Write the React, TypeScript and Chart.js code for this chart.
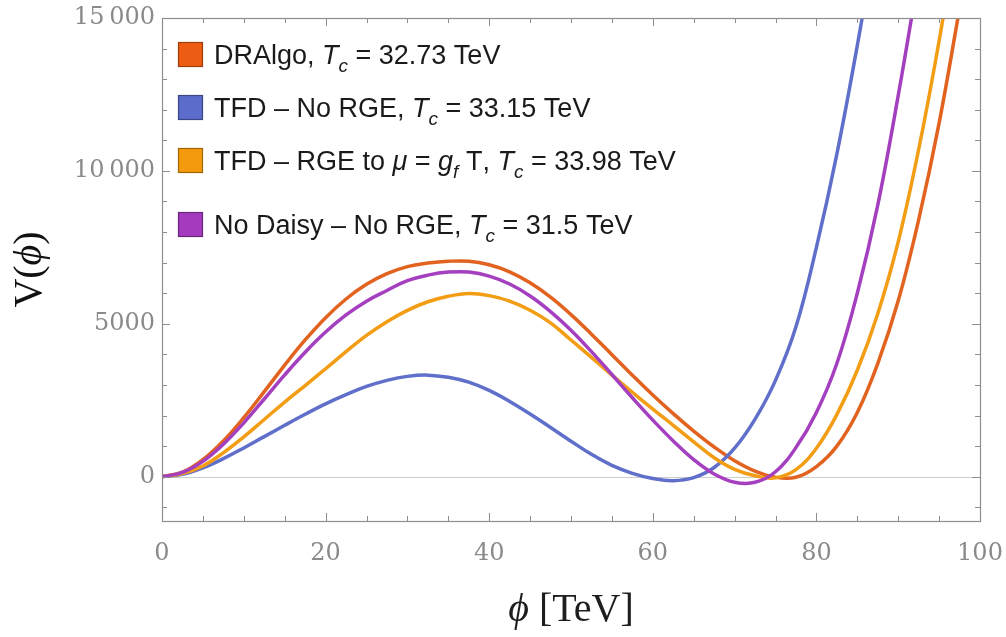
import React, { useEffect, useRef } from "react";
import { Chart, registerables } from "chart.js";

Chart.register(...registerables);

// ---- data ----
const phiValues = [
  0, 2.5, 5, 7.5, 10, 12.5, 15, 17.5, 20, 22.5, 25, 27.5, 30, 32.5, 35, 37.5, 40,
  42.5, 45, 47.5, 50, 52.5, 55, 57.5, 60, 62.5, 65, 67.5, 70, 72.5, 75, 77.5, 80,
  82.5, 85, 87.5, 90, 92.5, 95, 97.5, 100,
];

const dralgoValues = [
  0, 150, 560, 1170, 1930, 2780, 3650, 4470, 5200, 5810, 6290, 6640, 6870, 6985,
  7045, 7045, 6930, 6700, 6340, 5870, 5300, 4660, 3990, 3320, 2670, 2060, 1490,
  970, 520, 180, -20, -20, 330, 1000, 2100, 3700, 5750, 8400, 11560, 15300, null,
];

const tfdNoRgeValues = [
  0, 80, 290, 590, 940, 1310, 1680, 2040, 2380, 2680, 2950, 3150, 3280, 3320,
  3250, 3090, 2820, 2460, 2050, 1610, 1160, 730, 370, 110, -60, -130, -30, 300,
  930, 1880, 3150, 4900, 7500, 10550, 14100, 18000, null, null, null, null, null,
];

const tfdRgeValues = [
  0, 100, 350, 780, 1300, 1870, 2440, 2980, 3530, 4090, 4620, 5070, 5440, 5720,
  5900, 5990, 5920, 5740, 5440, 5030, 4470, 3900, 3320, 2760, 2210, 1680, 1140,
  620, 240, 30, -40, 230, 930, 2030, 3480, 5330, 7680, 10700, 14250, 18300, null,
];

const noDaisyValues = [
  0, 140, 500, 1060, 1760, 2540, 3330, 4070, 4730, 5290, 5740, 6090, 6410, 6590,
  6690, 6690, 6560, 6300, 5910, 5400, 4790, 4090, 3340, 2580, 1850, 1170, 560,
  90, -180, -185, 160, 950, 2100, 3700, 6000, 8880, 12460, 16400, null, null, null,
];

const seriesNames = ["DRAlgo", "TFD \u2013 No RGE", "TFD \u2013 RGE to \u03bc = g_f T", "No Daisy \u2013 No RGE"];
const criticalTemps = ["32.73", "33.15", "33.98", "31.5"];
const seriesColors = ["#E2631F", "#5F6FCA", "#F29D14", "#A43FC0"];
const swatchColors = ["#EE5C14", "#5B6CCB", "#F49A0C", "#A43BBE"];

const xTickValues = [0, 20, 40, 60, 80, 100];
const xTickLabels = ["0", "20", "40", "60", "80", "100"];
const yTickValues = [0, 5000, 10000, 15000];
const yTickLabels = ["0", "5000", "10\u2009000", "15\u2009000"];

const X_MIN = 0;
const X_MAX = 100;
const Y_MIN = -1450;
const Y_MAX = 15000;
const X_MINOR_STEP = 5;
const Y_MINOR_STEP = 1000;

const xTitle = ["\u03d5", " [TeV]"];
const yTitle = ["V(", "\u03d5", ")"];

type Seg = { t: string; it?: boolean; sub?: boolean };

function nameSegments(name: string): Seg[] {
  const m = name.match(/^(.*to )(\u03bc)( = )g_f( T)$/);
  if (m) {
    return [
      { t: m[1] },
      { t: m[2], it: true },
      { t: m[3] },
      { t: "g", it: true },
      { t: "f", it: true, sub: true },
      { t: m[4] },
    ];
  }
  return [{ t: name }];
}

function legendSegments(i: number): Seg[] {
  return [
    ...nameSegments(seriesNames[i]),
    { t: ", " },
    { t: "T", it: true },
    { t: "c", it: true, sub: true },
    { t: " = " + criticalTemps[i] + " TeV" },
  ];
}

function darker(hex: string, f: number) {
  const n = parseInt(hex.slice(1), 16);
  const r = Math.round(((n >> 16) & 255) * f);
  const g = Math.round(((n >> 8) & 255) * f);
  const b = Math.round((n & 255) * f);
  return `rgb(${r},${g},${b})`;
}

const FRAME = "#8e8e8e";

const decorPlugin = {
  id: "decor",
  beforeDatasetsDraw(chart: any) {
    const { ctx, chartArea: a, scales } = chart;
    const y0 = Math.round(scales.y.getPixelForValue(0)) + 0.5;
    ctx.save();
    ctx.strokeStyle = "#cdcdcd";
    ctx.lineWidth = 1;
    ctx.beginPath();
    ctx.moveTo(a.left, y0);
    ctx.lineTo(a.right, y0);
    ctx.stroke();
    ctx.restore();
  },
  afterDraw(chart: any) {
    const { ctx, chartArea: a, scales } = chart;
    const xs = scales.x;
    const ys = scales.y;
    ctx.save();
    ctx.strokeStyle = FRAME;
    ctx.lineWidth = 1.2;
    ctx.strokeRect(Math.round(a.left) + 0.5, Math.round(a.top) + 0.5, Math.round(a.right - a.left), Math.round(a.bottom - a.top));
    ctx.lineWidth = 1;
    ctx.beginPath();
    for (let v = X_MIN; v <= X_MAX + 1e-9; v += X_MINOR_STEP) {
      const px = Math.round(xs.getPixelForValue(v)) + 0.5;
      const len = xTickValues.includes(v) ? 8 : 5;
      ctx.moveTo(px, a.bottom);
      ctx.lineTo(px, a.bottom - len);
      ctx.moveTo(px, a.top);
      ctx.lineTo(px, a.top + len);
    }
    for (let v = Math.ceil(Y_MIN / Y_MINOR_STEP) * Y_MINOR_STEP; v <= Y_MAX + 1e-9; v += Y_MINOR_STEP) {
      const py = Math.round(ys.getPixelForValue(v)) + 0.5;
      const len = yTickValues.includes(v) ? 8 : 5;
      ctx.moveTo(a.left, py);
      ctx.lineTo(a.left + len, py);
      ctx.moveTo(a.right, py);
      ctx.lineTo(a.right - len, py);
    }
    ctx.stroke();

    // axis titles
    const serif = '"Liberation Serif", "DejaVu Serif", serif';
    const tsize = 40;
    ctx.textBaseline = "middle";
    ctx.textAlign = "left";
    const drawPlain = (parts: string[], italicIdx: number[], cx: number, cy: number) => {
      let w = 0;
      parts.forEach((p, i) => {
        ctx.font = `${italicIdx.includes(i) ? "italic " : ""}${tsize}px ${serif}`;
        w += ctx.measureText(p).width;
      });
      let x = cx - w / 2;
      parts.forEach((p, i) => {
        ctx.font = `${italicIdx.includes(i) ? "italic " : ""}${tsize}px ${serif}`;
        ctx.fillText(p, x, cy);
        x += ctx.measureText(p).width;
      });
    };
    ctx.fillStyle = "#1e1e1e";
    drawPlain(xTitle, [0], (a.left + a.right) / 2, 610);
    ctx.save();
    ctx.translate(30, (a.top + a.bottom) / 2);
    ctx.rotate(-Math.PI / 2);
    ctx.fillStyle = "#111";
    drawPlain(yTitle, [1], 0, 0);
    ctx.restore();

    // legend
    const sans = '"Liberation Sans", Arial, sans-serif';
    const lsize = 27;
    const rowCenters = [54.5, 107.5, 160.5, 224.5].map((c) => c - 18 + a.top);
    ctx.textBaseline = "alphabetic";
    for (let i = 0; i < seriesNames.length; i++) {
      const cy = rowCenters[i];
      const sx = a.left + 16;
      ctx.fillStyle = swatchColors[i];
      ctx.fillRect(sx, cy - 12.5, 25, 25);
      ctx.strokeStyle = darker(swatchColors[i], 0.65);
      ctx.lineWidth = 1.2;
      ctx.strokeRect(sx + 0.5, cy - 12, 24, 24);
      ctx.fillStyle = "#1a1a1a";
      let x = sx + 36;
      const base = cy + lsize * 0.358;
      for (const s of legendSegments(i)) {
        const fs = s.sub ? Math.round(lsize * 0.72) : lsize;
        ctx.font = `${s.it ? "italic " : ""}${fs}px ${sans}`;
        ctx.fillText(s.t, x, base + (s.sub ? lsize * 0.3 : 0));
        x += ctx.measureText(s.t).width;
      }
    }
    ctx.restore();
  },
};

export default function App() {
  const ref = useRef<HTMLCanvasElement | null>(null);

  useEffect(() => {
    if (!ref.current) return;
    const allSeries = [dralgoValues, tfdNoRgeValues, tfdRgeValues, noDaisyValues];
    const chart = new Chart(ref.current, {
      type: "line",
      data: {
        datasets: allSeries.map((vals, i) => ({
          label: seriesNames[i],
          data: phiValues.map((x, k) => ({ x, y: vals[k] })),
          borderColor: seriesColors[i],
          backgroundColor: seriesColors[i],
          borderWidth: 3.5,
          pointRadius: 0,
          tension: 0.4,
          spanGaps: false,
          fill: false,
          clip: 0,
          order: allSeries.length - i,
        })),
      },
      options: {
        responsive: false,
        animation: false,
        events: [],
        layout: { padding: { top: 18, right: 26, left: 0, bottom: 0 } },
        plugins: { legend: { display: false }, tooltip: { enabled: false } },
        scales: {
          x: {
            type: "linear",
            min: X_MIN,
            max: X_MAX,
            grid: { display: false, drawTicks: false },
            border: { display: false },
            afterBuildTicks: (s: any) => {
              s.ticks = xTickValues.map((v) => ({ value: v }));
            },
            afterFit: (s: any) => {
              s.height = 116;
              s.paddingLeft = 0;
              s.paddingRight = 0;
            },
            ticks: {
              color: "#8a8a8a",
              font: { family: '"DejaVu Serif", serif', size: 24 },
              padding: 18,
              maxRotation: 0,
              autoSkip: false,
              callback: (v: any) => {
                const i = xTickValues.indexOf(Number(v));
                return i >= 0 ? xTickLabels[i] : "";
              },
            },
          },
          y: {
            type: "linear",
            min: Y_MIN,
            max: Y_MAX,
            grid: { display: false, drawTicks: false },
            border: { display: false },
            afterBuildTicks: (s: any) => {
              s.ticks = yTickValues.map((v) => ({ value: v }));
            },
            afterFit: (s: any) => {
              s.width = 162;
              s.paddingTop = 0;
              s.paddingBottom = 0;
            },
            ticks: {
              color: "#8a8a8a",
              font: { family: '"DejaVu Serif", serif', size: 24 },
              padding: 7,
              autoSkip: false,
              callback: (v: any) => {
                const i = yTickValues.indexOf(Number(v));
                return i >= 0 ? yTickLabels[i] : "";
              },
            },
          },
        },
      },
      plugins: [decorPlugin],
    });
    return () => chart.destroy();
  }, []);

  return (
    <div style={{ position: "absolute", left: 0, top: 0, width: 1006, height: 637, background: "#fff" }}>
      <canvas ref={ref} width={1006} height={637} style={{ display: "block", width: 1006, height: 637 }} />
    </div>
  );
}
